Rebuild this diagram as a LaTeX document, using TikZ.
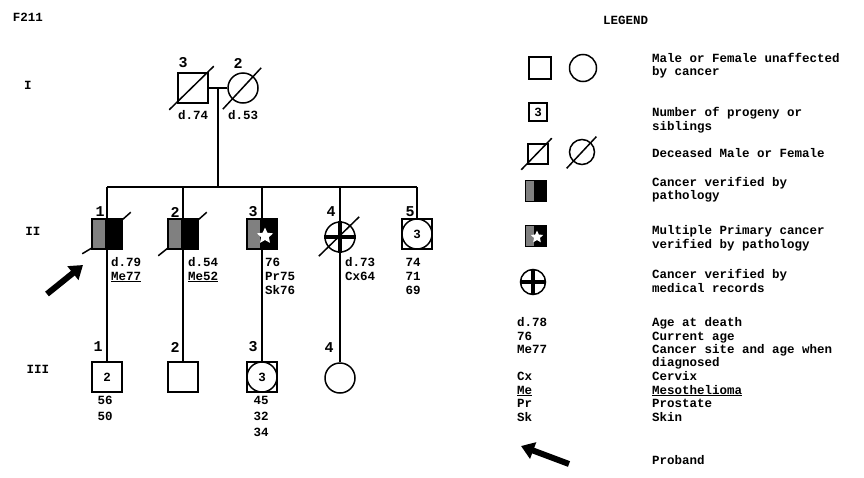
\documentclass[tikz,border=0pt]{standalone}
\usepackage{fontspec}
\setmonofont{Liberation Mono}
\usetikzlibrary{shapes.geometric,calc,arrows.meta}
\begin{document}
\begin{tikzpicture}[x=1pt,y=-1pt,
  txt/.style={font=\ttfamily\bfseries\fontsize{12.5}{13}\selectfont, inner sep=0pt, text height=8pt, text depth=2pt},
  num/.style={font=\ttfamily\bfseries\fontsize{15}{16}\selectfont, inner sep=0pt},
  ln/.style={line width=1.5pt},
  male/.style={draw, rectangle, minimum size=30pt, inner sep=0pt, line width=1.5pt, font=\ttfamily\bfseries\fontsize{12.5}{13}\selectfont},
  female/.style={draw, circle, minimum size=30pt, inner sep=0pt, line width=1.5pt, font=\ttfamily\bfseries\fontsize{12.5}{13}\selectfont},
  patho/.style={path picture={
     \fill[black!50] (path picture bounding box.north west) rectangle ([xshift=-2pt]path picture bounding box.south);
     \fill[black] ([xshift=-2pt]path picture bounding box.north) rectangle (path picture bounding box.south east);}},
  wstar/.style={star, star points=5, star point ratio=2.1, fill=white, inner sep=0pt},
  bigarrow/.style={line width=6pt, -{Triangle[length=13pt,width=17pt]}},
]
\useasboundingbox (0,0) rectangle (864,477);

% headers
\node[txt] at (28,18) {F211};
\node[txt, anchor=west] at (603,21) {LEGEND};
\node[txt] at (28,86) {I};
\node[txt] at (33,232) {II};
\node[txt] at (38,370) {III};

% generation I
\node[male] (I1) at (193,88) {};
\node[female] (I2) at (243,88) {};
\draw[ln] ($(I1.south west)+(-8,6)$) -- ($(I1.north east)+(5,-6)$);
\draw[ln] ($(I2.south west)+(-9,10)$) -- ($(I2.north east)+(7,-9)$);
\draw[ln] (I1.east) -- (I2.west);
\coordinate (m1) at (218,88);
\coordinate (sm) at (218,187);
\draw[ln] (m1) -- (sm);
\node[num] at (183,63) {3};
\node[num] at (238,63) {2};
\node[txt] at (193,116) {d.74};
\node[txt] at (243,116) {d.53};

% sibship line
\coordinate (s1) at (107,187);
\coordinate (s2) at (183,187);
\coordinate (s3) at (262,187);
\coordinate (s4) at (340,187);
\coordinate (s5) at (417,187);
\draw[ln] (s1) -- (s5);

% generation II
\node[male, patho] (II1) at (107,234) {};
\node[male, patho] (II2) at (183,234) {};
\node[male, patho] (II3) at (262,234) {};
\node[wstar, minimum size=17pt] (II3s) at ($(II3.center)+(3,2)$) {};
\node[female] (II4) at (340,237) {};
\node[male] (II5) at (417,234) {};
\node[female] (II5c) at (II5.center) {3};

\draw[ln] (s1) -- (II1.north);
\draw[ln] (s2) -- (II2.north);
\draw[ln] (s3) -- (II3.north);
\draw[ln] (s4) -- (II4.north);
\draw[ln] (s5) -- (II5.north);

\draw[ln] ($(II1.south west)+(1,-2)$) -- ++(-10,6);
\draw[ln] ($(II1.north east)+(-1,2)$) -- ++(9,-8);
\draw[ln] ($(II2.south west)+(1,-2)$) -- ++(-10,8);
\draw[ln] ($(II2.north east)+(-1,2)$) -- ++(9,-8);
\draw[line width=4pt] (II4.north) -- (II4.south);
\draw[line width=4pt] (II4.west) -- (II4.east);
\draw[ln] ($(II4.south west)+(-10,8)$) -- ($(II4.north east)+(8,-9)$);

\node[num] at (100,212) {1};
\node[num] at (175,212) {2};
\node[num] at (253,212) {3};
\node[num] at (331,212) {4};
\node[num] at (410,212) {5};

\node[txt, anchor=west] at (111,263) {d.79};
\node[txt, anchor=west] at (111,277) {\underline{Me77}};
\node[txt, anchor=west] at (188,263) {d.54};
\node[txt, anchor=west] at (188,277) {\underline{Me52}};
\node[txt, anchor=west] at (265,263) {76};
\node[txt, anchor=west] at (265,277) {Pr75};
\node[txt, anchor=west] at (265,291) {Sk76};
\node[txt, anchor=west] at (345,263) {d.73};
\node[txt, anchor=west] at (345,277) {Cx64};
\node[txt] at (413,263) {74};
\node[txt] at (413,277) {71};
\node[txt] at (413,291) {69};

% proband arrow
\coordinate (pa0) at (47,294);
\coordinate (pa1) at (83,265);
\draw[bigarrow] (pa0) -- (pa1);

% generation III
\node[male] (III1) at (107,377) {2};
\node[male] (III2) at (183,377) {};
\node[male] (III3) at (262,377) {};
\node[female] (III3c) at (III3.center) {3};
\node[female] (III4) at (340,378) {};

\draw[ln] (II1.south) -- (III1.north);
\draw[ln] (II2.south) -- (III2.north);
\draw[ln] (II3.south) -- (III3.north);
\draw[ln] (II4.south) -- (III4.north);

\node[num] at (98,347) {1};
\node[num] at (175,347) {2};
\node[num] at (253,347) {3};
\node[num] at (329,348) {4};

\node[txt] at (105,401) {56};
\node[txt] at (105,417) {50};
\node[txt] at (261,401) {45};
\node[txt] at (261,417) {32};
\node[txt] at (261,433) {34};

% legend symbols
\node[male, minimum size=22pt] (L1) at (540,68) {};
\node[female, minimum size=27pt] (L2) at (583,68) {};
\node[male, minimum size=18pt] (L3) at (538,112) {3};
\node[male, minimum size=20pt] (L4) at (538,154) {};
\draw[ln] ($(L4.south west)+(-6,5)$) -- ($(L4.north east)+(3,-5)$);
\node[female, minimum size=25pt] (L5) at (582,152) {};
\draw[ln] ($(L5.south west)+(-6,7)$) -- ($(L5.north east)+(5,-6)$);
\node[male, patho, minimum size=21pt] (L6) at (536,191) {};
\node[male, patho, minimum size=21pt] (L7) at (536,236) {};
\node[wstar, minimum size=13pt] (L7s) at ($(L7.center)+(1,1)$) {};
\node[female, minimum size=25pt] (L8) at (533,282) {};
\draw[line width=4pt] (L8.north) -- (L8.south);
\draw[line width=4pt] (L8.west) -- (L8.east);

% legend texts
\node[txt, anchor=west] at (652,59) {Male or Female unaffected};
\node[txt, anchor=west] at (652,72) {by cancer};
\node[txt, anchor=west] at (652,113) {Number of progeny or};
\node[txt, anchor=west] at (652,127) {siblings};
\node[txt, anchor=west] at (652,154) {Deceased Male or Female};
\node[txt, anchor=west] at (652,183) {Cancer verified by};
\node[txt, anchor=west] at (652,196) {pathology};
\node[txt, anchor=west] at (652,231) {Multiple Primary cancer};
\node[txt, anchor=west] at (652,245) {verified by pathology};
\node[txt, anchor=west] at (652,275) {Cancer verified by};
\node[txt, anchor=west] at (652,289) {medical records};

\node[txt, anchor=west] at (517,323) {d.78};
\node[txt, anchor=west] at (517,337) {76};
\node[txt, anchor=west] at (517,350) {Me77};
\node[txt, anchor=west] at (517,377) {Cx};
\node[txt, anchor=west] at (517,391) {\underline{Me}};
\node[txt, anchor=west] at (517,404) {Pr};
\node[txt, anchor=west] at (517,418) {Sk};

\node[txt, anchor=west] at (652,323) {Age at death};
\node[txt, anchor=west] at (652,337) {Current age};
\node[txt, anchor=west] at (652,350) {Cancer site and age when};
\node[txt, anchor=west] at (652,363) {diagnosed};
\node[txt, anchor=west] at (652,377) {Cervix};
\node[txt, anchor=west] at (652,391) {\underline{Mesothelioma}};
\node[txt, anchor=west] at (652,404) {Prostate};
\node[txt, anchor=west] at (652,418) {Skin};
\node[txt, anchor=west] at (652,461) {Proband};

\coordinate (la0) at (569,464);
\coordinate (la1) at (521,446);
\draw[bigarrow] (la0) -- (la1);
\end{tikzpicture}
\end{document}
